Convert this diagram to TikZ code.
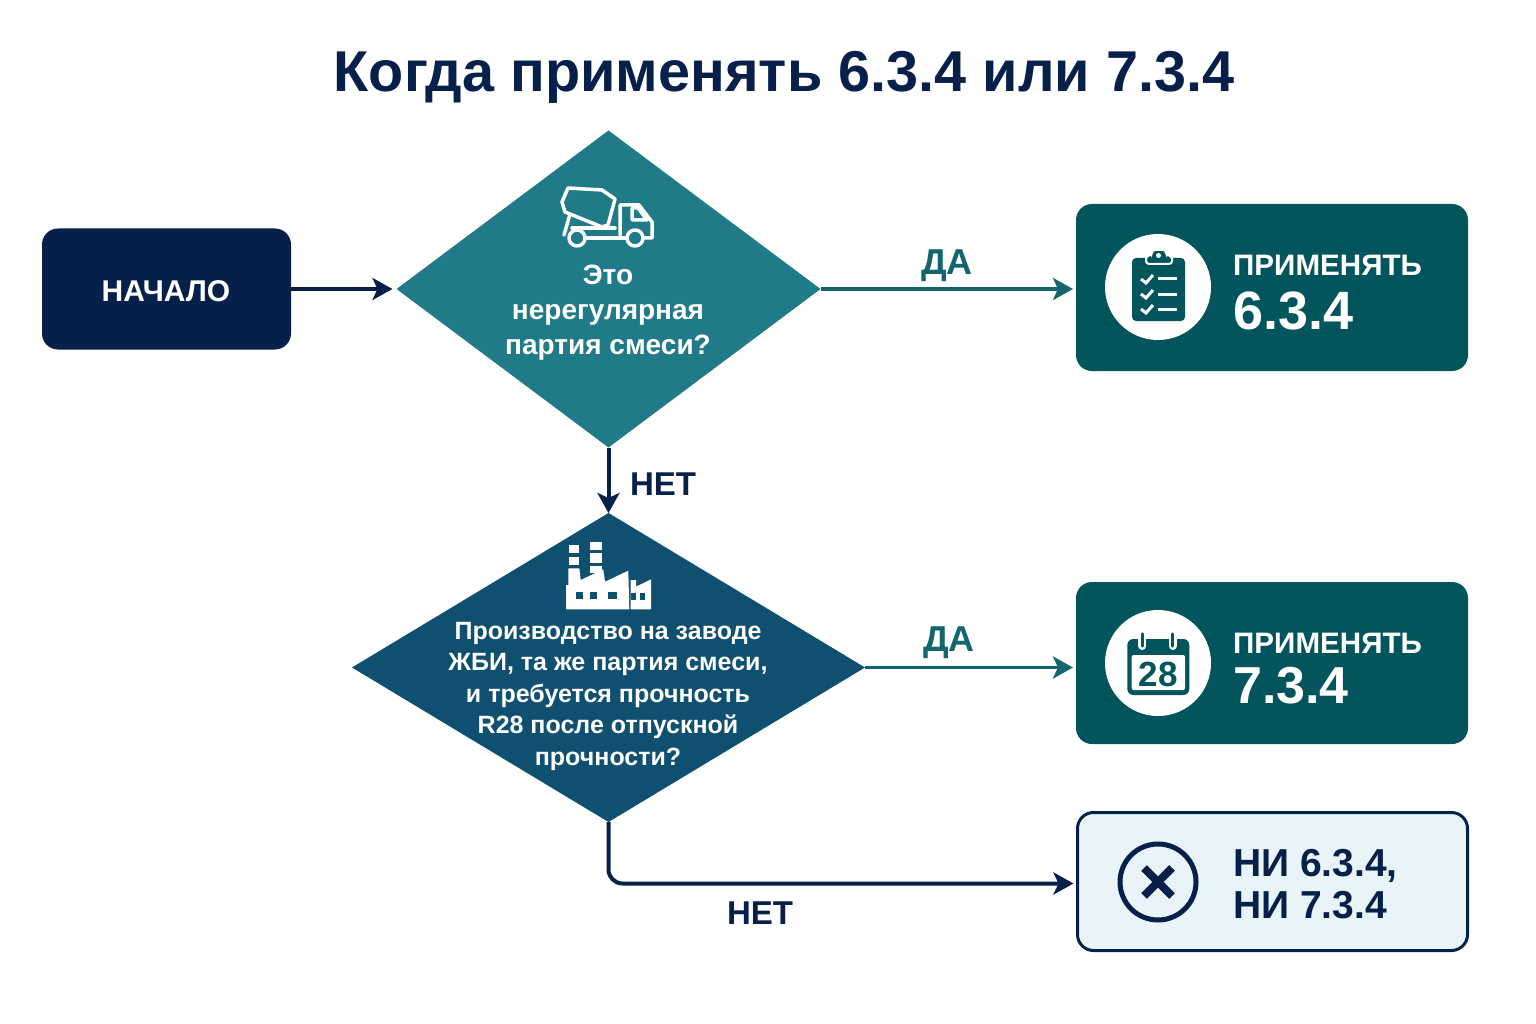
\documentclass[tikz,border=0pt]{standalone}
\usepackage{fontspec}
\setmainfont{Liberation Sans}
\usepackage{xcolor}
\usetikzlibrary{arrows.meta}
\usetikzlibrary{shapes.geometric}
\definecolor{navy}{HTML}{06204A}
\definecolor{tealbox}{HTML}{02555C}
\definecolor{tealarrow}{HTML}{14666E}
\definecolor{dgreen}{HTML}{217A87}
\definecolor{dblue}{HTML}{0F4F70}
\definecolor{pale}{HTML}{E8F4F7}
\newcommand{\fs}[2]{\fontsize{#1}{#2}\selectfont\bfseries}

\begin{document}
\begin{tikzpicture}[x = 1pt, y = -1pt]
    \tikzstyle{box}=[draw=none,rectangle,rounded corners=16pt,inner sep=0,outer sep=0]
    \tikzstyle{question}=[draw=none,diamond,inner sep=0,outer sep=0,aspect=1.4]
    \tikzstyle{navyarrow}=[draw=navy,line width = 4pt,-{Stealth[length=20pt,width=22pt,inset=5pt]}]
    \tikzstyle{tealline}=[draw=tealarrow,line width = 3.5pt,-{Stealth[length=20pt,width=22pt,inset=5pt]}]
    \tikzstyle{white text}=[text=white,inner sep=0]
    \tikzstyle{icon line}=[draw=white,line width = 3.5pt,line join=round,line cap=round]
    \path[fill=white] (0,0) rectangle (1536,1024);
    \useasboundingbox (0,0) rectangle (1536,1024);

    \node[text=navy,inner sep=0] (title) at (784,77) {\fs{57.6}{60}Когда применять 6.3.4 или 7.3.4};

    \node[box,fill=navy,minimum width=249pt,minimum height=121pt] (start) at (166.5,289) {};
    \node[question,fill=dgreen,minimum width=424pt,minimum height=317pt] (d1) at (608.5,289) {};
    \node[question,fill=dblue,minimum width=513pt,minimum height=309pt] (d2) at (608.5,667.5) {};
    \node[box,fill=tealbox,minimum width=392pt,minimum height=167pt] (b1) at (1272,287.5) {};
    \node[box,fill=tealbox,minimum width=392pt,minimum height=162pt] (b2) at (1272,663) {};
    \node[box,fill=pale,draw=navy,line width = 3pt,minimum width=390pt,minimum height=138pt] (b3) at (1272.5,881.5) {};

    \coordinate (entry) at ([xshift=-4pt,yshift=-2pt]b3.west);
    \coordinate (corner) at (d2.south |- entry);
    \draw[navyarrow] (start.east) -- ([xshift=-4pt]d1.west);
    \draw[tealline] (d1.east) -- ([xshift=-3pt]d1.east -| b1.west);
    \draw[navyarrow] (d1.south) -- (d2.north);
    \draw[tealline] (d2.east) -- ([xshift=-3pt]d2.east -| b2.west);
    \draw[navyarrow,rounded corners=14pt] (d2.south) -- (corner) -- (entry);

    \node[white text] (startlabel) at (166,291) {\fs{30}{34}НАЧАЛО};
    \node[white text,align=center,font=\fs{28}{35}] (q1) at (608,313) {Это\\нерегулярная\\партия смеси?};
    \node[white text,align=center,font=\fs{25}{31.5}] (q2) at (608,696) {Производство на заводе\\ЖБИ, та же партия смеси,\\и требуется прочность\\R28 после отпускной\\прочности?};

    \node[text=tealarrow,inner sep=0] (yes1) at (947,266) {\fs{36}{38}ДА};
    \node[text=tealarrow,inner sep=0] (yes2) at (949,643) {\fs{36}{38}ДА};
    \node[text=navy,inner sep=0] (no1) at (663,484) {\fs{33}{36}НЕТ};
    \node[text=navy,inner sep=0] (no2) at (760,913) {\fs{33}{36}НЕТ};

    \node[white text,anchor=base west] (t1) at (1233,276) {\fs{29.6}{34}ПРИМЕНЯТЬ};
    \node[white text,anchor=base west] (n1) at (1233,329) {\fs{54}{56}6.3.4};
    \node[white text,anchor=base west] (t2) at (1233,653) {\fs{29.6}{34}ПРИМЕНЯТЬ};
    \node[white text,anchor=base west] (n2) at (1233,703) {\fs{52}{56}7.3.4};
    \node[text=navy,inner sep=0,anchor=base west] (t3) at (1233,876) {\fs{39}{40}НИ 6.3.4,};
    \node[text=navy,inner sep=0,anchor=base west] (n3) at (1233,918) {\fs{39}{40}НИ 7.3.4};

    \draw[icon line] (568,188) -- (602,190) -- (615,199) -- (608,225) -- (602,227) -- (565,212) -- (562,202) -- cycle;
    \draw[icon line] (570,214) -- (564,235);
    \draw[icon line] (572,228) -- (615,228);
    \draw[icon line] (585,238) -- (627,238);
    \draw[icon line] (620,235) -- (620,205) -- (639,205) -- (652,222) -- (652,238) -- (643,238);
    \draw[icon line] (632,208) -- (638,208) -- (647,220) -- (632,220) -- cycle;
    \draw[icon line,fill=dgreen] (577,238) circle (8);
    \draw[icon line,fill=dgreen] (635,238) circle (8);

    \fill[white] (566,609.3) -- (566,585) -- (568.3,585) -- (568.3,568.3) -- (579.3,568.3) -- (580.7,580) -- (603.3,569.3) -- (605,581.7) -- (628.3,570.7) -- (629.3,609.3) -- cycle;
    \fill[white] (630.7,609.3) -- (630.7,580) -- (636,580) -- (636,586.7) -- (651,579.3) -- (651,609.3) -- cycle;
    \foreach \a/\b in {545/553.3,556.7/565}
        \fill[white] (568.5,\a) rectangle (579,\b);
    \foreach \a/\b in {541.7/550,553.3/562.7,566/573}
        \fill[white] (590,\a) rectangle (601.7,\b);
    \foreach \a/\b in {575.7/583.3,590/597.3,608.3/616.7}
        \fill[dblue] (\a,591.7) rectangle (\b,599.3);
    \foreach \a/\b in {630.7/635.7,640/645.3}
        \fill[dblue] (\a,593.3) rectangle (\b,600);

    \fill[white] (1158,287) circle (53);
    \fill[tealbox,rounded corners=4pt] (1132,258) rectangle (1185,321);
    \draw[draw=white,line width = 2pt,fill=tealbox,rounded corners=3pt] (1146,264) -- (1146,256) -- (1152,255) -- (1152,250) -- (1166,250) -- (1166,255) -- (1172,256) -- (1172,264) -- cycle;
    \fill[white] (1158.5,255.5) circle (2.5);
    \foreach \r in {279,294,309} {
        \draw[draw=white,line width = 3pt] (1141,\r) -- (1146,\r+4) -- (1153,\r-4);
        \draw[draw=white,line width = 3pt] (1158,\r) -- (1177,\r);
    }

    \fill[white] (1158,663) circle (53);
    \fill[tealbox,rounded corners=6pt] (1127.3,639) rectangle (1189.3,695);
    \fill[white,rounded corners=2pt] (1131.7,655) rectangle (1185,690);
    \foreach \c in {1142.3,1172.7} {
        \draw[draw=white,line width = 8pt,line cap=round] (\c,634) -- (\c,646);
        \draw[draw=tealbox,line width = 3.5pt,line cap=round] (\c,634) -- (\c,646);
    }
    \node[text=tealbox,inner sep=0] (cal) at (1158,674) {\fs{35}{36}28};

    \draw[draw=navy,line width = 5pt] (1158,882) circle (38);
    \draw[draw=navy,line width = 8pt] (1144,868) -- (1172,896);
    \draw[draw=navy,line width = 8pt] (1172,868) -- (1144,896);
\end{tikzpicture}
\end{document}
